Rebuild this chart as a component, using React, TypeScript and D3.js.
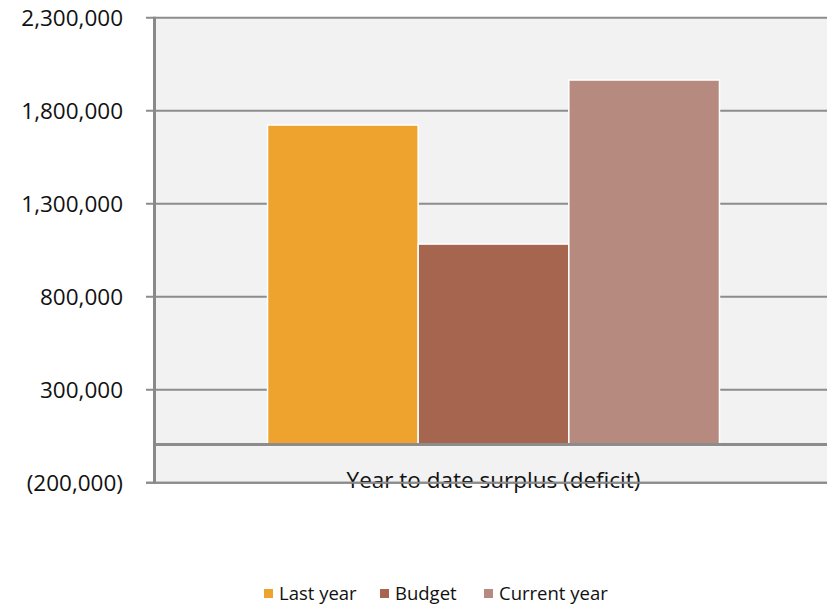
import React from "react";
import * as d3 from "d3";

const categories = ["Year to date surplus (deficit)"];
const seriesNames = ["Last year", "Budget", "Current year"];
const seriesValues = [1723000, 1083000, 1965000];
const seriesColors = ["#EFA32F", "#A5654E", "#B68A7E"];
const yTicks = [-200000, 300000, 800000, 1300000, 1800000, 2300000];

const W = 827;
const H = 605;
const FONT = "'Open Sans', sans-serif";

export default function App() {
  const left = 155;
  const right = 832;
  const top = 17.7;
  const bottom = 482.7;

  const y = d3.scaleLinear().domain([-200000, 2300000]).range([bottom, top]);
  const x0 = d3.scaleBand().domain(categories).range([left, right]).paddingInner(0).paddingOuter(0.249);
  const x1 = d3.scaleBand().domain(seriesNames).range([0, x0.bandwidth()]).padding(0);

  const fmt = (v: number) => (v < 0 ? `(${d3.format(",")(-v)})` : d3.format(",")(v));

  const legendItems = [
    { x: 264, name: seriesNames[0], color: seriesColors[0] },
    { x: 380, name: seriesNames[1], color: seriesColors[1] },
    { x: 484, name: seriesNames[2], color: seriesColors[2] },
  ];

  return (
    <svg width={W} height={H} style={{ position: "absolute", left: 0, top: 0, background: "#fff" }}>
      <rect x={left} y={top} width={W - left} height={bottom - top} fill="#F2F2F2" />
      {yTicks.map((t) => (
        <line key={t} x1={146} x2={W} y1={y(t)} y2={y(t)} stroke="#8C8C8C" strokeWidth={2} />
      ))}
      {yTicks.map((t) => (
        <text key={"l" + t} x={123} y={y(t)} dy="0.35em" textAnchor="end" fontFamily={FONT} fontSize={22.5} fill="#111">
          {fmt(t)}
        </text>
      ))}
      {categories.map((c) => (
        <g key={c} transform={`translate(${x0(c)},0)`}>
          {seriesNames.map((s, i) => (
            <rect
              key={s}
              x={x1(s)}
              y={y(seriesValues[i])}
              width={x1.bandwidth()}
              height={y(0) - y(seriesValues[i])}
              fill={seriesColors[i]}
              stroke="#fff"
              strokeWidth={1.5}
            />
          ))}
        </g>
      ))}
      <line x1={left} x2={W} y1={y(0) - 1} y2={y(0) - 1} stroke="#8C8C8C" strokeWidth={3} />
      {categories.map((c) => (
        <text key={"c" + c} x={x0(c)! + x0.bandwidth() / 2} y={488} textAnchor="middle" fontFamily={FONT} fontSize={22.5} fill="#111">
          {c}
        </text>
      ))}
      <line x1={146} x2={W} y1={bottom} y2={bottom} stroke="#8C8C8C" strokeWidth={2} />
      <line x1={left - 0.5} x2={left - 0.5} y1={top - 1} y2={bottom + 1} stroke="#898989" strokeWidth={3} />
      {legendItems.map((d) => (
        <g key={d.name}>
          <rect x={d.x} y={589} width={9} height={9} fill={d.color} />
          <text x={d.x + 15} y={600} fontFamily={FONT} fontSize={18.5} fill="#111">
            {d.name}
          </text>
        </g>
      ))}
    </svg>
  );
}
